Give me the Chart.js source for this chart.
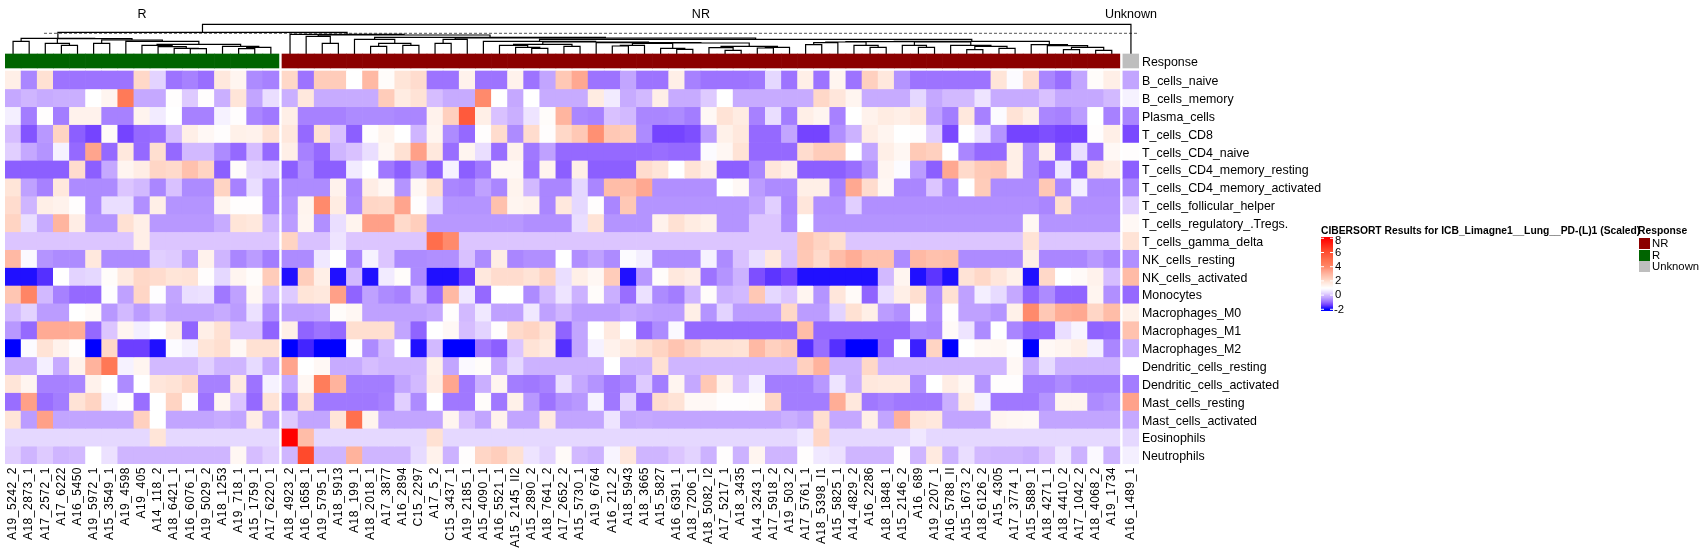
<!DOCTYPE html>
<html>
<head>
<meta charset="utf-8">
<style>
body { margin: 0; background: #fff; }
canvas { display: block; }
</style>
<script src="https://cdn.jsdelivr.net/npm/chart.js@4/dist/chart.umd.min.js"></script>
</head>
<body>
<canvas id="heatmap" width="1700" height="550"></canvas>
<script>
const samples = [
  'A19_5242_2','A18_2873_1','A17_2572_1','A17_6222','A16_5450','A19_5972_1','A15_3549_1','A19_4598','A19_405','A14_118_2','A18_6421_1','A16_6076_1','A19_5029_2','A18_1253','A19_718_1','A15_1759_1','A17_6220_1',
  'A18_4923_2','A16_1658_1','A19_5795_1','A18_5913','A18_199_1','A18_2018_1','A17_3877','A16_2894','C15_2297','A17_5_2','C15_3437_1','A19_2185_1','A15_4090_1','A16_5521_1','A15_2145_II2','A15_2890_2','A18_7641_2','A17_2652_2','A15_5730_1','A19_6764','A16_212_2','A18_5943','A18_3665','A15_5827','A16_6391_1','A18_7206_1','A18_5082_I2','A17_5217_1','A18_3435','A14_3243_1','A17_5918_2','A19_503_2','A17_5761_1','A18_5398_I1','A15_5825_1','A14_4829_2','A16_2286','A18_1848_1','A15_2146_2','A16_689','A19_2207_1','A16_5788_II','A15_1673_2','A18_6126_2','A15_4305','A17_3774_1','A15_5889_1','A18_4271_1','A18_4410_2','A17_1042_2','A18_4068_2','A19_1734',
  'A16_1489_1'
];
const groups = ['R', 'NR', 'Unknown'];
const groupSizes = [17, 52, 1];
const groupColors = ['#006400', '#8B0000', '#BEBEBE'];
const cellTypes = ['B_cells_naive','B_cells_memory','Plasma_cells','T_cells_CD8','T_cells_CD4_naive','T_cells_CD4_memory_resting','T_cells_CD4_memory_activated','T_cells_follicular_helper','T_cells_regulatory_.Tregs.','T_cells_gamma_delta','NK_cells_resting','NK_cells_activated','Monocytes','Macrophages_M0','Macrophages_M1','Macrophages_M2','Dendritic_cells_resting','Dendritic_cells_activated','Mast_cells_resting','Mast_cells_activated','Eosinophils','Neutrophils'];

// scaled scores, columns in dendrogram order: R, NR, Unknown
const B_cells_naive = [1.5,-.7,1.9,-.9,-.9,-.9,-.9,-.9,2.1,.25,-.9,-.75,-.95,1.7,1.3,-.65,-.75,
  2.1,-.9,2.4,2.4,1,2.9,1.1,1.8,2,-.9,-.9,1.4,-.9,-.9,1.4,-.9,-.35,2.5,3.3,-.9,-.9,-.35,-.9,-.9,1.5,-.75,-.9,-.9,-.9,-.85,.3,-.9,1.5,-.9,1.3,-.9,2.3,1.7,-.55,-.9,-.9,-.9,-.9,-.9,1.8,.9,2,-.7,-.95,-.35,1.1,1.5,
  -.35];
const B_cells_memory = [-.3,-.1,-.25,-.2,-.2,1,1.3,4.5,-.3,-.3,1.05,.15,1.05,-.2,1.8,-.35,.4,
  -.2,1.7,-.25,-.25,-.25,-.25,2.4,1.6,1.85,0,-.25,-.25,3.9,1,-.3,1,-.25,-.25,-.25,1.6,.6,-.25,-.05,1.5,-.25,-.25,.15,1,-.25,-.25,-.25,-.25,-.25,2.1,1.75,1.3,-.25,-.25,-.25,.3,-.3,-.05,-.05,.5,-.25,-.25,-.25,.05,-.3,-.3,-.3,-.05,
  .7];
const Plasma_cells = [.65,-.8,1.05,-.8,1.4,1.4,-.75,-.75,1.35,.6,1,-.75,-.75,.7,1.05,-.7,-.85,
  1.5,-.75,-.75,-.75,-.65,-.65,-.65,-.7,-.7,1.4,2.3,5.6,1.5,.05,-.2,.5,1.1,3,-.7,-.75,.05,-.05,-.7,-.7,-.65,-.8,1.2,1.85,1.6,-.75,.4,-.8,1.5,1.3,-.75,1,1.4,1.6,1.5,1.7,-.4,-.8,1.7,-.75,.9,1.85,1.5,-.7,-.75,-.45,1,-.75,
  -.7];
const T_cells_CD8 = [0,-1.2,-.5,2.2,-1.1,-1.35,1.15,-1.35,-1,-.95,0,1.5,1.2,1.05,1.45,1.4,1.9,
  1.7,-1,1.9,.05,-1.1,1.05,1.35,1,-.1,1.3,-.65,-1,1.05,2,-.65,2,1.05,2.1,2.5,3.8,2.5,2.4,-.65,-1.35,-1.35,-1.25,-.45,1.45,1.7,-1,-1,-.35,-1.35,-1.35,-.6,-.15,1.55,1.3,1,1.05,.2,-1.3,1,.45,-.55,-1.35,-1.35,-1.25,-1.35,-1.35,1.05,1.5,
  -1.3];
const T_cells_CD4_naive = [.2,-.3,-.55,.7,-1,3.4,-1,1.7,-1,1.95,-1,-.05,-.05,-.65,-1,0,-1,
  1.5,-.75,-1,-.1,.05,.4,1.25,1.9,3.5,1.7,-.95,1.3,.4,-.95,1.4,-.85,-.4,-1,-1,-1,-1,-1,-1,-.95,-1,-1,.9,1.25,1.85,-1,-1,-1,2,2.4,2.4,1,-.35,1.5,1.25,2.45,2.3,1,-.7,-1,-1,1.5,-.7,1.5,-1.1,.4,-.95,1.2,
  1.05];
const T_cells_CD4_memory_resting = [-1.1,-1.1,-1.1,-1.1,2,-1.1,-.3,1.3,1.55,2.15,2.05,2.7,2.2,-1.1,1.1,.25,.2,
  -1.1,-.6,-1.1,-1.1,.6,1,-.85,-1.1,-.55,-1.1,.7,-1.1,-.85,1.2,1.2,-.9,1.35,-1.1,1.5,-1.1,-1.1,-1.1,2,1.8,1,1.85,1.5,-1.1,-1.1,-.7,1.75,1.5,-1.1,-1.1,-1.1,-.95,-.6,1.3,.9,-.45,-1.1,3.3,2.05,2.45,2.55,1.5,-.7,-1,.55,-1.1,1.8,1.55,
  -1.1];
const T_cells_CD4_memory_activated = [1.8,-.4,-.75,1.7,-.65,-.65,-.65,.1,-.05,-.7,.05,-.65,-.65,2.2,-.75,.4,-.7,
  -.65,-.65,-.65,1.4,-.7,1.55,1.25,-.55,1.25,1.95,-.7,-.75,-.4,-.7,1.35,-.05,-.7,-.7,.3,-.7,2.8,2.8,3.3,-.6,-.6,-.6,-.6,1,1.2,-.45,-.65,-.65,1.5,1.5,-.75,3.3,2,1.25,-.7,-.7,.1,-.7,1,2.4,-.65,-.65,-.65,2.5,-.7,.65,-.65,-.65,
  -.65];
const T_cells_follicular_helper = [2,-.1,1.5,1.4,1.05,-.65,.4,.4,-.6,1.5,-.55,-.55,-.55,1.3,1.05,1.05,-.7,
  -.55,1.35,3.9,1.6,-.65,2.15,2.1,3.4,1.05,.35,-.55,-.55,-.55,2.7,1.3,1.4,-.7,1.7,.3,1.05,-.7,2.5,-.55,-.55,-.55,-.55,-.55,-.55,-.55,-.35,.2,-.7,1.75,-.6,-.6,.2,-.6,-.6,-.6,-.6,-.6,-.6,-.6,-.6,-.6,-.6,-.6,-.7,1.95,-.6,-.6,-.6,
  .2];
const T_cells_regulatory = [2.2,.4,-.25,3,1.55,-.55,-.55,1.9,1.5,-.5,-.5,-.5,-.5,-.25,1.8,1.7,-.1,
  -.45,1.3,-.6,.4,1.35,3.5,3.5,2.05,2.35,-.5,-.5,-.5,-.5,-.5,-.5,-.6,-.6,-.6,.4,1.85,-.55,-.55,-.55,1.4,1.9,1.6,1.45,-.55,-.55,.1,.1,-.65,1,-.55,-.55,-.55,-.55,-.55,-.55,-.55,-.55,-.55,-.55,-.55,-.55,-.55,1.25,-.55,-.55,-.55,-.55,-.55,
  1.2];
const T_cells_gamma_delta = [.1,.1,.1,.1,.1,.1,.1,.1,1.5,.1,.1,.1,.1,.1,.1,.1,.1,
  2.2,.05,.05,.5,.1,.1,.1,.1,.1,5,3.9,.1,.1,.1,.1,.1,.1,.1,.1,.1,.1,.1,.1,.1,.1,.1,.1,.1,.1,.1,.1,.1,2.55,2.2,1.95,.1,.1,.1,.1,.1,.1,.1,.1,.1,.1,.1,1.85,.1,.1,.1,.1,.1,
  1.85];
const NK_cells_resting = [2.9,.85,-.55,-.65,-.65,1.7,-.65,-.65,-.65,.2,.15,-.4,1.4,-.1,-.7,-.45,-.8,
  -.65,-.65,.55,1,-.7,.7,.1,-.65,-.65,-.6,-.6,.05,-.65,1.55,-.7,-.6,-.6,1,-.6,-.4,-.65,.9,.65,-.65,-.65,-.65,.7,-.65,.05,.4,1.7,.05,2.5,2.05,2.8,3.2,2.7,2.7,-.65,2.9,2.7,2.75,-.65,-.65,-.65,-.65,1.5,-.7,-.7,-.7,-.5,-.7,
  -.6];
const NK_cells_activated = [-1.85,-1.85,-1.55,1,.25,.3,1.1,1.65,2.1,2,1.8,1.85,1.05,.3,1.3,1.1,2.4,
  -1.85,2.35,1.5,-1.85,-.05,-1.85,.6,1.1,-.65,-1.85,-1.85,-1.4,1.7,2,2,1.85,2.2,.4,1.5,1.25,2.4,-1.85,-.5,1.1,1.7,1.55,-.9,-.55,-.15,-1.25,-1.5,-1.35,-1.85,-1.85,-1.85,-1.85,-1.85,-.05,1.3,-1.85,-1.5,-1.85,1.85,2.1,1.75,1.45,-1.85,2.1,1,1.15,1.4,0,
  2.85];
const Monocytes = [2.55,4.1,-.05,-.75,-1,-1,.95,-.4,2.15,.95,-.35,.4,.45,-.85,-.4,1.25,-.05,
  .15,1.8,1.7,3.5,-1.05,-.4,-.65,-.75,0,-1,2.9,.55,-1,1,1,-.65,-.05,.5,-.15,1.1,-.2,-.95,.45,-.65,-.8,-.1,1.1,-.15,-.05,2.5,.3,.1,1.3,-.55,1.75,1.15,-1.05,.4,1.5,1.95,-.65,1.9,-.4,.65,.35,-.3,-1.05,-.65,-1.05,-1.05,1.3,-.6,
  -1];
const Macrophages_M0 = [-.05,.25,-.45,-.45,1,1.15,-.5,-.05,-.45,-.1,-.4,-.4,-.4,-.25,-.45,.45,-.6,
  -.4,-.4,-.35,1.1,1.25,-.4,-.4,-.4,-.4,-.3,1.05,-.05,.55,-.4,-.4,.55,-.4,-.1,-.45,-.45,-.45,-.3,-.4,-.45,-.45,1.5,-.55,.25,-.45,-.45,-.45,2.1,-.45,-.45,.25,1.9,1.5,-.45,-.6,1.05,-.6,1.05,-.4,-.4,-.55,1.45,3.9,2.5,3.2,3.3,2.15,2.8,
  1.45];
const Macrophages_M1 = [-.5,-1,3.25,3.25,3.2,-1,.1,1.3,.65,1,1.55,-1.05,1.5,1.9,.05,.05,-1.05,
  1.5,-1.05,-.9,-1,1.95,1.95,1.95,-.35,-1.05,1,1.2,0,.25,1.05,2.05,2.2,1.85,-1.05,-.35,1,1.65,1,-1,-.65,.85,-1,-1,-1,-1,-1,-1,-1,2.8,-1,-1,-1,-1,-1,-1,-.65,-.7,1.15,.5,-.65,1,-.7,-1.05,-1,.4,.75,-1.05,-1,
  2.65];
const Macrophages_M2 = [-2,.9,1.85,1.4,1.05,-2,2.1,-1.4,-1.4,-1.85,.9,.65,1.8,1.95,1.2,1.9,1.9,
  -2,-1.65,-2,-2,1.05,-.65,-.05,1,-1.85,-.05,-2,-2,-.9,-1.1,.1,1.85,1.65,-1.55,-.35,.7,1.4,1.65,1.95,2.2,2.6,2.25,1.9,1.9,1.85,2.9,2.3,2.5,-1.55,-.95,-1.55,-2,-2,-1.05,1,-1.7,2.2,-2,1,1.2,1.25,1.05,-2,1.2,1.3,1.5,.65,-.7,
  -.2];
const Dendritic_cells_resting = [-.25,-.25,.65,-.25,1.4,3.05,4.6,.7,1.3,-.05,-.05,-.05,.2,-.1,-.1,.35,-.25,
  3.4,1,1.2,-.25,-.25,0,-.1,-.1,-.1,1.45,-.35,.85,1.1,-.3,.3,-.15,-.15,-.15,-.15,-.15,1,-.15,-.15,1.9,-.1,-.1,-.1,-.1,-.1,-.1,-.1,-.1,2.3,3.05,-.15,-.15,2.1,-.1,-.1,-.1,-.1,-.1,-.1,-.1,-.1,1.2,-.25,.35,-.15,-.15,-.15,-.15,
  1];
const Dendritic_cells_activated = [1.8,1.3,-.75,-.75,-.7,1.4,1,-.65,1,1.75,1.85,2.1,-.75,-.75,1.65,-.9,.7,
  -.3,1.25,4.4,3.05,-.8,-.8,-.8,-.35,-.05,1.55,3.35,-.85,-.2,1.3,-.8,-.85,-.75,.4,-.3,-.55,-.85,-.7,.15,-.8,1.3,-.3,2.5,1.4,0,.65,-.8,-.8,-.8,-.5,.5,-.2,1.7,1.65,1.65,-.65,1,1.55,1.25,-.55,1.05,1.05,-.8,-.8,-.65,-.8,-.8,-.8,
  -.8];
const Mast_cells_resting = [-.95,3.5,-.95,-.8,1.85,2.2,.7,1.05,-.95,1,2.2,1.05,-.9,1.3,.1,-1,1.85,
  -.85,1.9,-.85,-.85,-.85,-.85,-.75,.2,-.65,1,-.85,-.85,1.1,-.85,1.45,-.5,-.9,-.6,-.5,.7,-.85,.25,-.95,2,1.85,1.2,1.2,1.05,1.05,1.1,2.15,-.8,-.8,-.8,3.2,1.7,-.85,-.75,-.85,-.85,-.85,-.2,1.6,.7,-.85,-.85,-.85,-.55,1.35,1.35,-.65,-.55,
  3.45];
const Mast_cells_activated = [1.8,-.45,3.5,-.35,-.35,-.35,-.35,-.35,2.3,1,-.35,-.35,-.35,-.25,-.35,1.55,-.4,
  .15,-.35,-.35,1.8,4.9,1.35,-.35,-.35,-.35,-.35,1.3,0,-.35,1.4,-.35,-.35,1.65,-.35,-.35,-.35,.5,-.35,-.3,-.35,-.35,-.35,-.35,-.35,-.35,-.35,-.35,-.2,-.35,1.95,-.3,-.3,1.5,-.35,3.1,1.8,1.7,-.35,-.35,-.35,1.3,1.25,1.2,-.35,-.35,-.35,-.35,-.35,
  -.3];
const Eosinophils = [.3,.3,.3,.3,.3,.3,.3,.3,.3,1.8,.3,.3,.3,.3,.3,.3,.3,
  8,2.8,.3,.3,.3,.3,.3,.3,.3,1.9,.3,.3,.3,.3,.3,.3,.3,.3,.3,.3,.3,.3,.3,.3,.3,.3,.3,.3,.3,.3,.3,.3,.55,2.15,.3,.3,.3,.3,.3,.55,.3,.3,.3,.3,.3,.3,.3,.3,.3,.3,.3,.3,
  .3];
const Neutrophils = [.2,-.1,.15,-.1,-.05,1,.45,-.1,-.1,-.1,-.1,-.1,-.1,-.1,1.25,0,.2,
  -.1,6.2,-.1,-.1,3.05,-.1,-.1,-.1,.35,1.4,-.15,1.05,2.15,2.35,1.9,.5,.25,1.15,-.05,-.15,.75,1.75,-.1,-.1,.1,.25,-.15,1.05,-.15,1.3,-.1,-.1,1.05,.55,.45,-.1,-.1,-.1,1.05,-.1,1.65,-.15,.4,-.05,-.1,-.1,-.2,.1,.55,-.15,.85,-.15,
  .65];
const rowValues = [B_cells_naive,B_cells_memory,Plasma_cells,T_cells_CD8,T_cells_CD4_naive,T_cells_CD4_memory_resting,T_cells_CD4_memory_activated,T_cells_follicular_helper,T_cells_regulatory,T_cells_gamma_delta,NK_cells_resting,NK_cells_activated,Monocytes,Macrophages_M0,Macrophages_M1,Macrophages_M2,Dendritic_cells_resting,Dendritic_cells_activated,Mast_cells_resting,Mast_cells_activated,Eosinophils,Neutrophils];

// column dendrogram: [height, left, right], a plain number is a leaf column
const treeR = [15.7,[12.7,0,1],[15.3,[10.7,2,[8.7,3,4]],[14,[10.7,5,6],[12.7,7,[9.7,
  [8.7,8,[7.3,9,[5.7,10,[5.3,11,12]]]],
  [7.7,13,[6.7,[5.3,14,15],16]]]]]]];
const tree19to31 = [11.3,36,[11,[10.7,[8.7,[8,37,38],39],[5.7,40,[4.7,41,42]]],
  [7.7,[6.3,43,[3.7,44,45]],[6.7,[6,46,47],48]]]];
const tree13to18 = [9.7,[8.7,30,[6.7,31,[5.7,32,33]]],[7.7,34,35]];
const tree32to62 = [12.3,
  [12,[11.3,[9.3,49,50],51],[8.7,52,[6.7,53,54]]],
  [12,[8.7,55,[6.7,56,57]],[8.7,58,[7.7,[4.3,59,60],[5.7,61,62]]]]];
const tree63to68 = [9.3,63,[8.3,64,[6.7,[4.3,65,66],[3.7,67,68]]]];
const treeNR = [19.7,17,[19,[17.7,18,[10.7,19,20]],[16.7,
  [14.7,21,[10.7,[7.7,22,23],[8.7,24,25]]],
  [16,[14.7,[10.7,26,27],28],
    [14.7,[12.7,29,[12,tree13to18,tree19to31]],[12.7,tree32to62,tree63to68]]]]]];
const treeAll = [29.7,[21.7,treeR,treeNR],69];
const cutHeight = 20.7;

// colour key of the heatmap: score -> colour
const colorStops = [[-2,'#0000ff'],[-1.85,'#2010ff'],[-1.55,'#5530ff'],[-1.35,'#7544ff'],[-1.1,'#8c5fff'],[-.9,'#9d73ff'],[-.65,'#ad8bff'],[-.35,'#c2a5ff'],[-.1,'#cfb5ff'],[.1,'#dcc5ff'],[.3,'#e5d8ff'],[.5,'#eee4ff'],[.7,'#f6f2ff'],[1,'#ffffff'],[1.3,'#fff5f0'],[1.5,'#ffefe7'],[1.85,'#ffe3d6'],[2.1,'#ffd8c8'],[2.5,'#ffc8b5'],[2.9,'#ffb9a4'],[3.5,'#ffa088'],[3.9,'#ff8a6c'],[4.5,'#ff7a58'],[5,'#ff6e4c'],[5.6,'#ff5a3c'],[6.2,'#ff4a2c'],[8,'#ff0000']];
const keyTicks = [8, 6, 4, 2, 0, -2];

const fontFamily = '"Liberation Sans", Arial, sans-serif';
const groupGap = 0.19;   // white gap between the response groups, in columns
const rowPx = 17.87, heatTop = 71, heatBottom = 464, areaTop = 20, annoTop = 54, annoBottom = 68, areaRight = 1139;

function hexToRgb(h) {
    return [1, 3, 5].map(i => parseInt(h.substr(i, 2), 16));
}

function colorFor(v) {
    for (let i = 1; i < colorStops.length; i++) {
        if (v <= colorStops[i][0]) {
            const [v0, c0] = colorStops[i - 1];
            const [v1, c1] = colorStops[i];
            const t = Math.max(0, (v - v0) / (v1 - v0));
            const a = hexToRgb(c0), b = hexToRgb(c1);
            return `rgb(${a.map((c, k) => Math.round(c + (b[k] - c) * t)).join(',')})`;
        }
    }
    return colorStops[colorStops.length - 1][1];
}

function groupOf(col) {
    if (col < groupSizes[0]) return 0;
    return col < groupSizes[0] + groupSizes[1] ? 1 : 2;
}

function colX(col) {
    return col + 0.5 + groupOf(col) * groupGap;
}

// walks a tree, pushes the three strokes of each merge, returns x and height of the node
function treeLines(node, out) {
    if (typeof node === 'number') return { x: colX(node), h: 0 };
    const l = treeLines(node[1], out);
    const r = treeLines(node[2], out);
    out.push({ x: l.x, y: l.h }, { x: l.x, y: node[0] }, { x: r.x, y: node[0] }, { x: r.x, y: r.h }, { x: null, y: null });
    return { x: (l.x + r.x) / 2, h: node[0] };
}

const xMax = samples.length + 2 * groupGap;
const rowsTopValue = -(heatTop - areaTop) / rowPx;
const annoRange = [(annoTop - heatTop) / rowPx, (annoBottom - heatTop) / rowPx];
const annoCenter = (annoRange[0] + annoRange[1]) / 2;
const labelShift = 0.1;   // row labels sit a little under the middle of the row

const columns = samples.map((_, i) => i);
const datasets = rowValues.map((vals, r) => ({
    label: cellTypes[r],
    data: columns.map(i => ({ x: colX(i), y: [r, r + 1] })),
    backgroundColor: vals.map(colorFor),
    borderWidth: 0,
    barPercentage: 1,
    categoryPercentage: 1,
    grouped: false,
    yAxisID: 'y'
}));
datasets.push({
    label: 'Response',
    data: columns.map(i => ({ x: colX(i), y: annoRange })),
    backgroundColor: columns.map(i => groupColors[groupOf(i)]),
    borderWidth: 0,
    barPercentage: 1,
    categoryPercentage: 1,
    grouped: false,
    yAxisID: 'y'
});
const dendroPoints = [];
treeLines(treeAll, dendroPoints);
datasets.push({
    type: 'line',
    label: 'dendrogram',
    data: dendroPoints,
    borderColor: '#000',
    borderWidth: 1.2,
    pointRadius: 0,
    tension: 0,
    spanGaps: false,
    yAxisID: 'y2'
});
datasets.push({
    type: 'line',
    label: 'cut',
    data: [{ x: 2.42, y: cutHeight }, { x: xMax, y: cutHeight }],
    borderColor: '#555',
    borderWidth: 1,
    borderDash: [3, 2],
    pointRadius: 0,
    yAxisID: 'y2'
});

// legends on the right of the heatmap
const keyLegend = {
    id: 'keyLegend',
    beforeDraw(chart) {
        const xs = chart.scales.x;
        if (!xs.spaced) {
            const draw = xs.drawLabels;
            xs.drawLabels = function(area) {
                chart.ctx.letterSpacing = '0.5px';
                draw.call(this, area);
                chart.ctx.letterSpacing = '0px';
            };
            xs.spaced = true;
        }
    },
    afterDraw(chart) {
        const ctx = chart.ctx;
        ctx.save();
        ctx.fillStyle = '#000';
        ctx.textBaseline = 'middle';
        ctx.font = `bold 10.3px ${fontFamily}`;
        ctx.fillText('CIBERSORT Results for ICB_Limagne1__Lung__PD-(L)1 (Scaled)', 1321, 231);
        ctx.fillText('Response', 1638, 231);

        const barX = 1321, barW = 12, y8 = 238.3, perUnit = 7.1;
        for (let y = 237; y < 311; y++) {
            const v = 8 - (y + 0.5 - y8) / perUnit;
            ctx.fillStyle = colorFor(Math.max(-2, Math.min(8, v)));
            ctx.fillRect(barX, y, barW, 1);
        }
        ctx.font = `11.3px ${fontFamily}`;
        keyTicks.forEach(t => {
            const y = y8 + (8 - t) * perUnit;
            ctx.fillStyle = '#fff';
            ctx.fillRect(barX, y - 0.5, 3, 1);
            ctx.fillRect(barX + barW - 3, y - 0.5, 3, 1);
            ctx.fillStyle = '#000';
            const labelY = t === 8 ? y + 2.5 : (t === -2 ? y + 1 : y);
            ctx.fillText(String(t), barX + barW + (t < 0 ? 1 : 2), labelY);
        });

        [[1, 238], [0, 250], [2, 261]].forEach(([g, y]) => {
            ctx.fillStyle = groupColors[g];
            ctx.fillRect(1639, y, 11, 11);
            ctx.fillStyle = '#000';
            ctx.fillText(groups[g], 1652, y + 6);
        });
        ctx.restore();
    }
};

new Chart(document.getElementById('heatmap').getContext('2d'), {
    type: 'bar',
    data: { datasets: datasets },
    plugins: [keyLegend],
    options: {
        responsive: false,
        animation: false,
        events: [],
        layout: { padding: { left: 5 } },
        plugins: { legend: { display: false }, tooltip: { enabled: false } },
        scales: {
            x: {
                type: 'linear',
                offset: false,
                min: 0,
                max: xMax,
                grid: { display: false, drawTicks: false },
                border: { display: false },
                afterBuildTicks: scale => { scale.ticks = columns.map(i => ({ value: colX(i) })); },
                afterFit: scale => { scale.height = 550 - heatBottom; },
                ticks: {
                    autoSkip: false,
                    minRotation: 90,
                    maxRotation: 90,
                    padding: 3,
                    color: '#000',
                    font: { family: fontFamily, size: 12 },
                    callback: (value, index) => samples[index]
                }
            },
            xTop: {
                type: 'linear',
                position: 'top',
                offset: false,
                min: 0,
                max: xMax,
                grid: { display: false, drawTicks: false },
                border: { display: false },
                afterBuildTicks: scale => {
                    scale.ticks = [
                        { value: groupSizes[0] / 2 },
                        { value: groupSizes[0] + groupGap + groupSizes[1] / 2 },
                        { value: groupSizes[0] + groupSizes[1] + 2 * groupGap + groupSizes[2] / 2 }
                    ];
                },
                afterFit: scale => { scale.height = areaTop; },
                ticks: {
                    autoSkip: false,
                    maxRotation: 0,
                    padding: -2,
                    color: '#000',
                    font: { family: fontFamily, size: 12.5 },
                    callback: (value, index) => groups[index]
                }
            },
            y: {
                type: 'linear',
                position: 'right',
                reverse: true,
                min: rowsTopValue,
                max: 22,
                grid: { display: false, drawTicks: false },
                border: { display: false },
                afterBuildTicks: scale => {
                    scale.ticks = [{ value: annoCenter + labelShift }].concat(cellTypes.map((_, r) => ({ value: r + 0.5 + labelShift })));
                },
                afterFit: scale => { scale.width = 1700 - areaRight; },
                ticks: {
                    autoSkip: false,
                    padding: 3,
                    color: '#000',
                    font: { family: fontFamily, size: 12.4 },
                    callback: (value, index) => index === 0 ? 'Response' : cellTypes[index - 1]
                }
            },
            y2: {
                type: 'linear',
                display: false,
                min: annoTop - heatBottom,
                max: annoTop - areaTop
            }
        }
    }
});
</script>
</body>
</html>
